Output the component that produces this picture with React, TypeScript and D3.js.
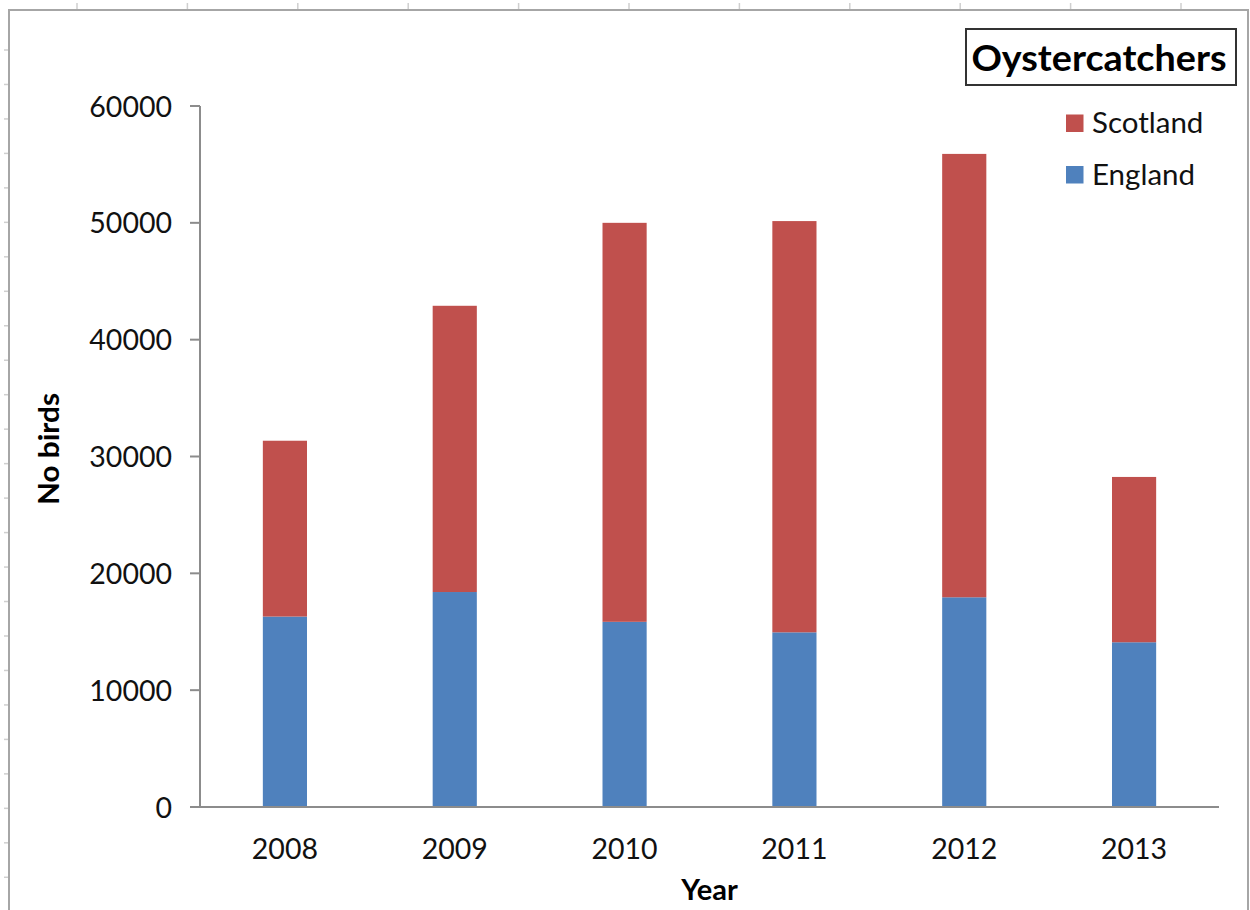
import React, { useEffect } from "react";
import * as d3 from "d3";

// Oystercatcher counts per year, stacked by country
const years = ["2008", "2009", "2010", "2011", "2012", "2013"];
const england = [16300, 18400, 15850, 14950, 17950, 14100];
const scotland = [15050, 24500, 34150, 35200, 37950, 14150];
const seriesNames = ["England", "Scotland"];
const yTicks = [0, 10000, 20000, 30000, 40000, 50000, 60000];

const W = 1250;
const H = 910;
const FONT = "Lato, 'Open Sans', sans-serif";
const colors: Record<string, string> = { England: "#4F81BD", Scotland: "#C0504D" };

export default function App() {
  useEffect(() => {
    document.body.style.margin = "0";
  }, []);

  const rows = years.map((y, i) => ({ year: y, England: england[i], Scotland: scotland[i] }));
  const stacked = d3.stack<any>().keys(seriesNames)(rows);

  const x = d3
    .scaleBand<string>()
    .domain(years)
    .range([200, 1219])
    .paddingInner(0.74)
    .paddingOuter(0.37);
  const y = d3.scaleLinear().domain([0, 60000]).range([807, 106]);

  // faint worksheet cell marks around the chart frame
  const colMarks = d3.range(0, 11).map((i) => 77 + i * 110.4);
  const rowMarks = d3.range(0, 25).map((i) => 50 + i * 34.47);

  return (
    <svg width={W} height={H} style={{ display: "block", background: "#fff" }}>
      {colMarks.map((cx, i) => (
        <line key={"c" + i} x1={cx} x2={cx} y1={3} y2={10} stroke="#cfcfcf" strokeWidth={1.5} />
      ))}
      {rowMarks.map((ry, i) => (
        <line key={"r" + i} x1={4} x2={9} y1={ry} y2={ry} stroke="#cfcfcf" strokeWidth={1.5} />
      ))}

      {/* chart frame */}
      <path d={`M9,${H + 2} V10 H1248 V${H + 2}`} fill="none" stroke="#a6a6a6" strokeWidth={2} />

      {/* stacked bars */}
      {stacked.map((s) => (
        <g key={s.key} fill={colors[s.key]}>
          {s.map((d, i) => (
            <rect
              key={i}
              x={x(years[i])}
              width={x.bandwidth()}
              y={y(d[1])}
              height={y(d[0]) - y(d[1])}
            />
          ))}
        </g>
      ))}

      {/* y axis */}
      <line x1={200} x2={200} y1={y(60000)} y2={y(0)} stroke="#8c8c8c" strokeWidth={2} />
      {yTicks.map((t) => (
        <g key={t}>
          <line x1={190} x2={200} y1={y(t)} y2={y(t)} stroke="#8c8c8c" strokeWidth={2} />
          <text
            x={172}
            y={y(t) + 10.5}
            textAnchor="end"
            fontFamily={FONT}
            fontSize={28.5}
            fill="#111"
          >
            {t}
          </text>
        </g>
      ))}

      {/* x axis */}
      <line x1={190} x2={1219} y1={y(0)} y2={y(0)} stroke="#8c8c8c" strokeWidth={2} />
      {years.map((yr) => (
        <text
          key={yr}
          x={(x(yr) as number) + x.bandwidth() / 2}
          y={859}
          textAnchor="middle"
          fontFamily={FONT}
          fontSize={28.5}
          fill="#111"
        >
          {yr}
        </text>
      ))}

      {/* axis titles */}
      <text x={709.5} y={900} textAnchor="middle" fontFamily={FONT} fontWeight="bold" fontSize={29} fill="#000">
        Year
      </text>
      <text
        transform="translate(59,449) rotate(-90)"
        textAnchor="middle"
        fontFamily={FONT}
        fontWeight="bold"
        fontSize={29}
        textLength={112}
        lengthAdjust="spacingAndGlyphs"
        fill="#000"
      >
        No birds
      </text>

      {/* title box */}
      <rect x={966} y={29} width={270} height={56} fill="#fff" stroke="#333" strokeWidth={2} />
      <text
        x={1099}
        y={71}
        textAnchor="middle"
        fontFamily={FONT}
        fontWeight="bold"
        fontSize={36}
        textLength={255}
        lengthAdjust="spacingAndGlyphs"
        fill="#000"
      >
        Oystercatchers
      </text>

      {/* legend */}
      {["Scotland", "England"].map((name, i) => (
        <g key={name}>
          <rect x={1066} y={114.5 + i * 51.5} width={17.5} height={17.5} fill={colors[name]} />
          <text x={1092} y={133 + i * 51.5} fontFamily={FONT} fontSize={29.5} fill="#111">
            {name}
          </text>
        </g>
      ))}
    </svg>
  );
}
